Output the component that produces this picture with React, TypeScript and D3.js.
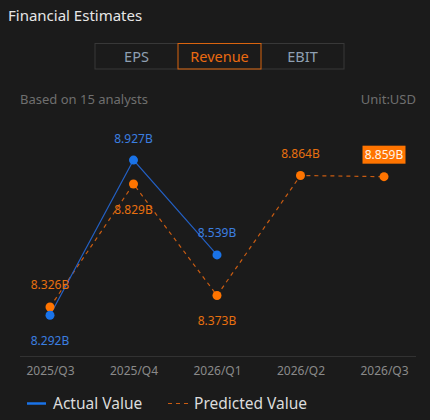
import { useEffect, useRef } from "react"
import * as d3 from "d3"

const quarters = ["2025/Q3", "2025/Q4", "2026/Q1", "2026/Q2", "2026/Q3"]
const actualValues: (number | null)[] = [8.292, 8.927, 8.539, null, null]
const predictedValues: number[] = [8.326, 8.829, 8.373, 8.864, 8.859]
const tabs = ["EPS", "Revenue", "EBIT"]
const activeTab = "Revenue"

const FONT = "'Noto Sans', 'Open Sans', sans-serif"
const BLUE = "#1a73e8"
const BLUE_LINE = "#2360c4"
const BLUE_TEXT = "#3b7fe0"
const ORANGE = "#ff7400"
const ORANGE_LINE = "#c95c12"
const ORANGE_TEXT = "#e8700f"

const App = () => {
  const svgRef = useRef<SVGSVGElement | null>(null)

  useEffect(() => {
    if (!svgRef.current) return
    const svg = d3.select(svgRef.current)
    svg.selectAll("*").remove()

    const width = 430
    const height = 420

    svg.append("rect").attr("width", width).attr("height", height).attr("fill", "#1b1b1b")

    // Title
    svg.append("text")
      .attr("x", 8).attr("y", 21)
      .attr("font-family", FONT).attr("font-size", 15)
      .attr("fill", "#e6e6e6")
      .text("Financial Estimates")

    // Tabs
    const tabW = 83
    const tabX = 95
    const tabG = svg.append("g").attr("transform", `translate(${tabX},43.5)`)
    tabG.append("rect")
      .attr("width", tabW * tabs.length).attr("height", 25.5)
      .attr("fill", "none").attr("stroke", "#383838").attr("stroke-width", 1)
    tabs.forEach((t, i) => {
      const active = t === activeTab
      if (active) {
        tabG.append("rect")
          .attr("x", i * tabW).attr("width", tabW).attr("height", 25.5)
          .attr("fill", "none").attr("stroke", "#d9640f").attr("stroke-width", 1)
      }
      tabG.append("text")
        .attr("x", i * tabW + tabW / 2).attr("y", 18)
        .attr("text-anchor", "middle")
        .attr("font-family", FONT).attr("font-size", 14.5)
        .attr("fill", active ? "#ea6a10" : "#8fa0b3")
        .text(t)
    })

    // Subtitle row
    svg.append("text")
      .attr("x", 20).attr("y", 104)
      .attr("font-family", FONT).attr("font-size", 13)
      .attr("fill", "#6f6f6f")
      .text("Based on 15 analysts")
    svg.append("text")
      .attr("x", 416).attr("y", 104)
      .attr("text-anchor", "end")
      .attr("font-family", FONT).attr("font-size", 13)
      .attr("fill", "#6f6f6f")
      .text("Unit:USD")

    // Scales
    const x = d3.scalePoint<string>().domain(quarters).range([50, 384])
    const y = d3.scaleLinear().domain([8.15, 9.05]).range([350, 130])

    // Axis baseline
    svg.append("line")
      .attr("x1", 20).attr("x2", 416)
      .attr("y1", 356.5).attr("y2", 356.5)
      .attr("stroke", "#323232").attr("stroke-width", 1)

    const xAxis = svg.append("g")
      .attr("transform", "translate(0,356)")
      .call(d3.axisBottom(x).tickSize(0).tickPadding(10))
    xAxis.select(".domain").remove()
    xAxis.selectAll("text")
      .attr("font-family", FONT).attr("font-size", 12)
      .attr("fill", "#8a8a8a")

    // Lines
    const actualPts = quarters
      .map((q, i) => ({ q, v: actualValues[i] }))
      .filter((d) => d.v !== null) as { q: string; v: number }[]
    const predPts = quarters.map((q, i) => ({ q, v: predictedValues[i] }))

    const line = d3.line<{ q: string; v: number }>()
      .x((d) => x(d.q) as number)
      .y((d) => y(d.v))

    svg.append("path")
      .datum(predPts)
      .attr("d", line)
      .attr("fill", "none")
      .attr("stroke", ORANGE_LINE)
      .attr("stroke-width", 1.2)
      .attr("stroke-dasharray", "4,4")

    svg.append("path")
      .datum(actualPts)
      .attr("d", line)
      .attr("fill", "none")
      .attr("stroke", BLUE_LINE)
      .attr("stroke-width", 1.2)

    svg.selectAll(".pred-dot")
      .data(predPts)
      .join("circle")
      .attr("cx", (d) => x(d.q) as number)
      .attr("cy", (d) => y(d.v))
      .attr("r", 4.5)
      .attr("fill", ORANGE)

    svg.selectAll(".act-dot")
      .data(actualPts)
      .join("circle")
      .attr("cx", (d) => x(d.q) as number)
      .attr("cy", (d) => y(d.v))
      .attr("r", 4.5)
      .attr("fill", BLUE)

    // Value labels: higher of the pair above, lower below
    quarters.forEach((q, i) => {
      const a = actualValues[i]
      const p = predictedValues[i]
      const cx = x(q) as number
      const last = i === quarters.length - 1
      const place = (v: number, color: string, above: boolean) => {
        const cy = above ? y(v) - 22 : y(v) + 25
        const label = `${v.toFixed(3)}B`
        if (last) {
          svg.append("rect")
            .attr("x", cx - 21.5).attr("y", cy - 9)
            .attr("width", 43).attr("height", 18)
            .attr("fill", ORANGE)
          svg.append("text")
            .attr("x", cx).attr("y", cy + 4.5)
            .attr("text-anchor", "middle")
            .attr("font-family", FONT).attr("font-size", 12)
            .attr("fill", "#fff3e8")
            .text(label)
          return
        }
        svg.append("text")
          .attr("x", cx).attr("y", cy + 4.5)
          .attr("text-anchor", "middle")
          .attr("font-family", FONT).attr("font-size", 12)
          .attr("fill", color)
          .text(label)
      }
      if (a === null) {
        place(p, ORANGE_TEXT, true)
      } else {
        place(a, BLUE_TEXT, a >= p)
        place(p, ORANGE_TEXT, p > a)
      }
    })

    // Legend
    const legend = svg.append("g").attr("transform", "translate(0,403.5)")
    legend.append("line")
      .attr("x1", 27).attr("x2", 46)
      .attr("stroke", BLUE).attr("stroke-width", 2.5)
    legend.append("text")
      .attr("x", 53).attr("y", 5.5)
      .attr("font-family", FONT).attr("font-size", 15.5)
      .attr("fill", "#dcdcdc")
      .text("Actual Value")
    legend.append("line")
      .attr("x1", 168).attr("x2", 188)
      .attr("stroke", ORANGE_LINE).attr("stroke-width", 1.2)
      .attr("stroke-dasharray", "4,4")
    legend.append("text")
      .attr("x", 194).attr("y", 5.5)
      .attr("font-family", FONT).attr("font-size", 15.5)
      .attr("fill", "#dcdcdc")
      .text("Predicted Value")
  }, [])

  return (
    <div style={{ position: "fixed", left: 0, top: 0, width: 430, height: 420 }}>
      <svg ref={svgRef} width={430} height={420} style={{ display: "block" }} />
    </div>
  )
}

export default App
